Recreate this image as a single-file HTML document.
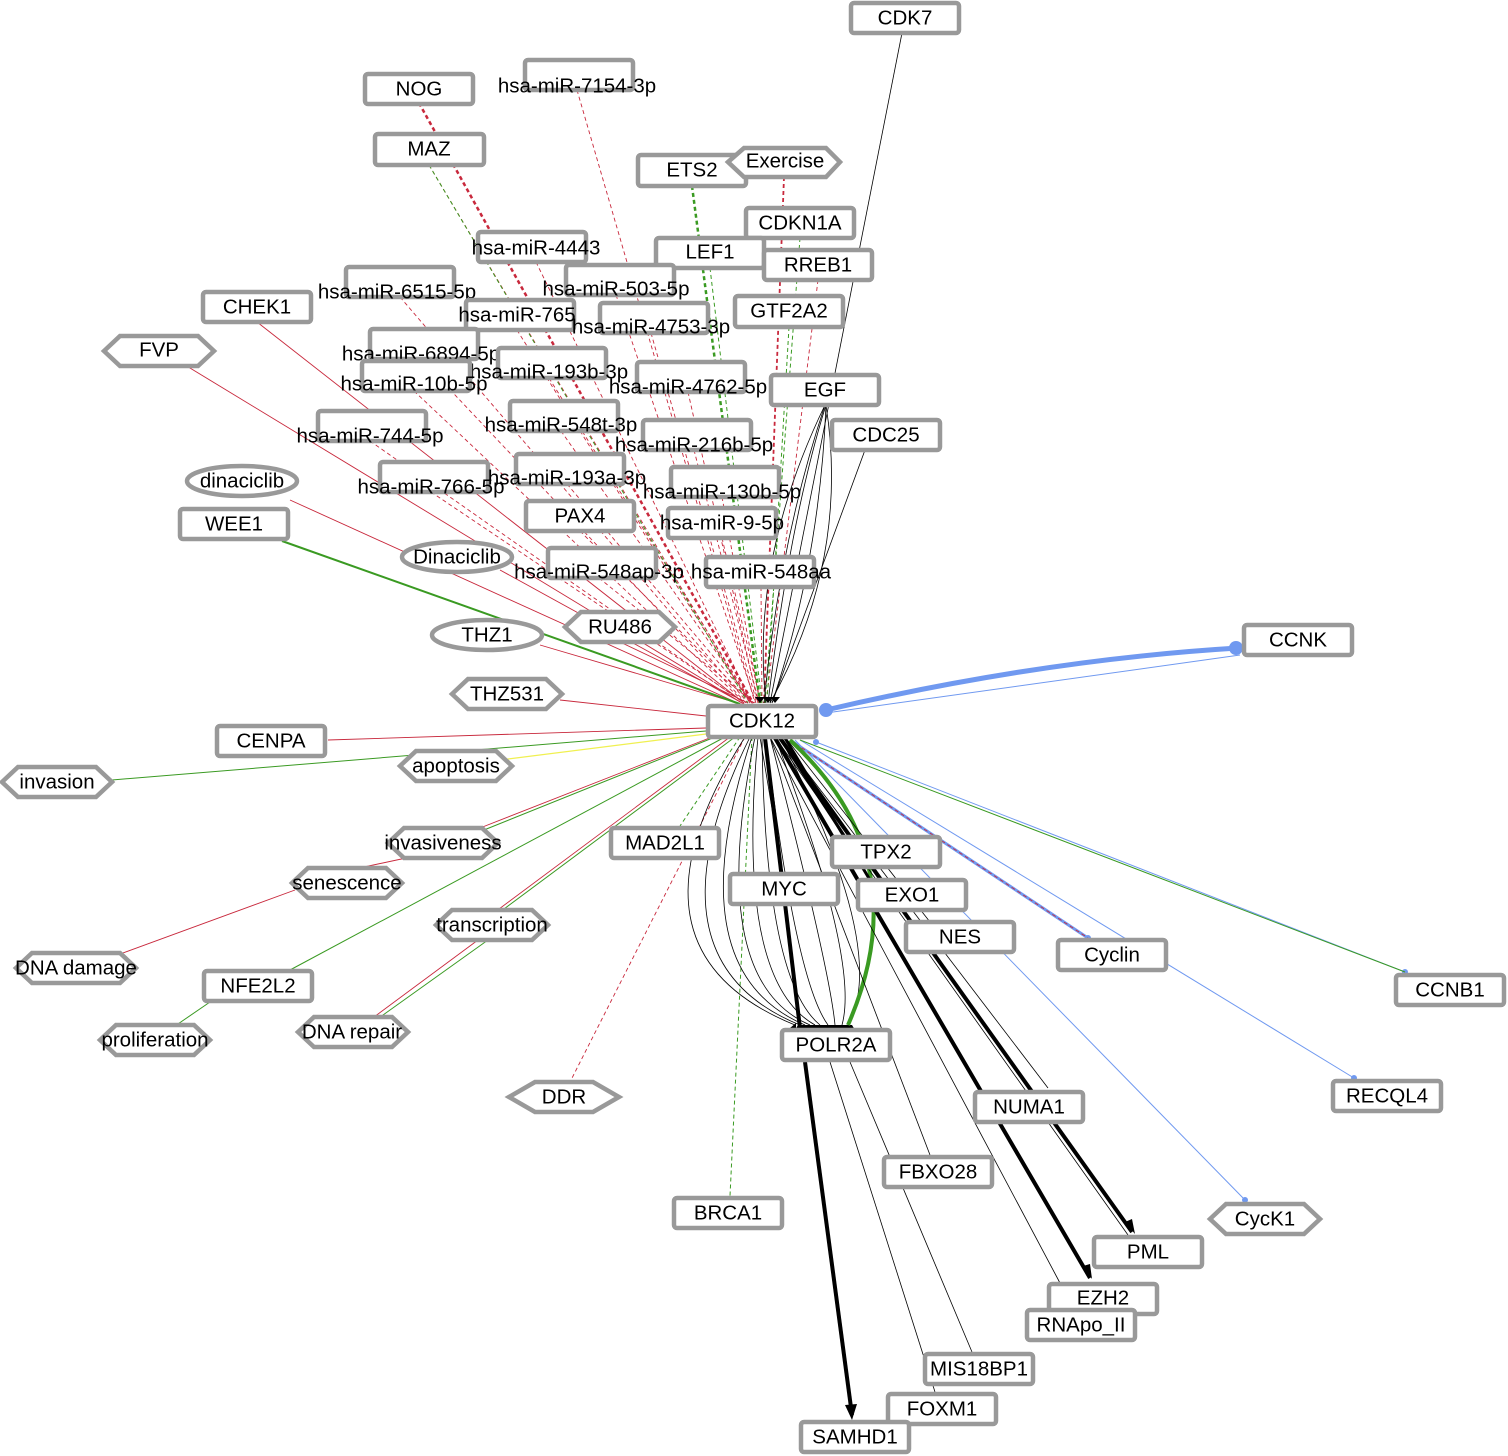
<!DOCTYPE html>
<html><head><meta charset="utf-8"><style>
html,body{margin:0;padding:0;background:#fff}
svg{display:block}
text{font-family:"Liberation Sans",sans-serif;font-size:20.5px;fill:#000;text-anchor:middle;dominant-baseline:central}
.n{fill:#fff;stroke:#999;stroke-width:4.5}
.r{stroke:#c8283c;fill:none;stroke-width:0.9}
.rd{stroke:#c8283c;fill:none;stroke-width:0.9;stroke-dasharray:4 3}
.g{stroke:#3a9a22;fill:none;stroke-width:1}
.gd{stroke:#3a9a22;fill:none;stroke-width:1;stroke-dasharray:4 3}
.k{stroke:#000;fill:none;stroke-width:0.8}
.kb{stroke:#000;fill:none;stroke-width:4}
.b{stroke:#7099f0;fill:none;stroke-width:1}
</style></head><body>
<svg width="1508" height="1456" viewBox="0 0 1508 1456">
<g>
<line class="rd" x1="577" y1="90" x2="755" y2="703"/>
<line class="rd" x1="536" y1="262" x2="752" y2="703"/>
<line class="rd" x1="400" y1="297" x2="748" y2="703"/>
<line class="rd" x1="616" y1="295" x2="756" y2="703"/>
<line class="rd" x1="517" y1="330" x2="750" y2="703"/>
<line class="rd" x1="651" y1="333" x2="757" y2="703"/>
<line class="rd" x1="421" y1="359" x2="746" y2="703"/>
<line class="rd" x1="549" y1="378" x2="752" y2="703"/>
<line class="rd" x1="414" y1="391" x2="745" y2="703"/>
<line class="rd" x1="688" y1="392" x2="758" y2="703"/>
<line class="rd" x1="370" y1="441" x2="744" y2="703"/>
<line class="rd" x1="561" y1="431" x2="752" y2="703"/>
<line class="rd" x1="694" y1="450" x2="759" y2="703"/>
<line class="rd" x1="431" y1="492" x2="745" y2="703"/>
<line class="rd" x1="567" y1="484" x2="753" y2="703"/>
<line class="rd" x1="722" y1="497" x2="760" y2="703"/>
<line class="rd" x1="722" y1="538" x2="761" y2="703"/>
<line class="rd" x1="599" y1="578" x2="754" y2="703"/>
<line class="rd" x1="761" y1="587" x2="762" y2="703"/>
<line class="rd" x1="580" y1="531" x2="752" y2="703"/>
<line class="rd" x1="419" y1="103" x2="753" y2="703" style="stroke-width:2.5"/>
<line class="rd" x1="784" y1="177" x2="764" y2="703" style="stroke-width:1.8"/>
<line class="rd" x1="818" y1="280" x2="766" y2="703"/>
<line class="rd" x1="429" y1="165" x2="750" y2="703"/>
<line class="gd" x1="429" y1="165" x2="748" y2="703"/>
<line class="gd" x1="692" y1="186" x2="760" y2="703" style="stroke-width:2.5"/>
<line class="gd" x1="710" y1="268" x2="762" y2="703"/>
<line class="gd" x1="800" y1="238" x2="765" y2="703"/>
<line class="gd" x1="789" y1="327" x2="767" y2="703"/>
<line class="r" x1="257" y1="322" x2="744" y2="703"/>
<line class="r" x1="185" y1="365" x2="742" y2="703"/>
<line class="r" x1="290" y1="500" x2="742" y2="705"/>
<line class="r" x1="500" y1="570" x2="744" y2="704"/>
<line class="r" x1="540" y1="645" x2="744" y2="705"/>
<line class="r" x1="620" y1="642" x2="748" y2="703"/>
<line class="r" x1="560" y1="700" x2="706" y2="716"/>
<line class="g" x1="282" y1="541" x2="740" y2="704" style="stroke-width:2"/>
<line class="k" x1="902" y1="33" x2="770" y2="703"/>
<line class="k" x1="865" y1="450" x2="772" y2="703"/>
<path class="k" d="M825 405 Q780 540 764 703"/>
<path class="k" d="M825 405 Q750 560 766 703"/>
<path class="k" d="M826 405 Q850 560 770 703"/>
<path class="k" d="M826 405 Q820 560 772 703"/>
<path class="k" d="M826 405 Q790 520 768 703"/>
<path d="M760 703 l-5 -6 h10z M768 703 l-5 -6 h10z M775 703 l-5 -6 h10z" fill="#000"/>
<path class="b" d="M826 710 Q1040 660 1238 648" style="stroke-width:5"/>
<line class="b" x1="826" y1="713" x2="1240" y2="655"/>
<circle cx="826" cy="710" r="7" fill="#7099f0"/>
<circle cx="1236" cy="648" r="7" fill="#7099f0"/>
<line class="b" x1="790" y1="740" x2="1088" y2="938" style="stroke-width:3"/>
<line class="b" x1="816" y1="742" x2="1405" y2="972"/>
<line class="b" x1="800" y1="740" x2="1354" y2="1078"/>
<line class="b" x1="795" y1="740" x2="1245" y2="1200"/>
<circle cx="1088" cy="938" r="3" fill="#7099f0"/>
<circle cx="1405" cy="972" r="3" fill="#7099f0"/>
<circle cx="1354" cy="1078" r="3" fill="#7099f0"/>
<circle cx="1245" cy="1200" r="3" fill="#7099f0"/>
<circle cx="816" cy="742" r="3" fill="#7099f0"/>
<line class="g" x1="800" y1="740" x2="1405" y2="972"/>
<line class="rd" x1="790" y1="740" x2="1088" y2="938"/>
<line class="r" x1="706" y1="728" x2="328" y2="740"/>
<line class="g" x1="706" y1="731" x2="112" y2="780"/>
<line x1="706" y1="734" x2="500" y2="760" stroke="#f0f050" stroke-width="1.2"/>
<line class="r" x1="712" y1="737" x2="480" y2="828"/>
<line class="g" x1="715" y1="737" x2="484" y2="830"/>
<line class="r" x1="350" y1="870" x2="420" y2="855"/>
<line class="r" x1="295" y1="890" x2="112" y2="957"/>
<line class="g" x1="725" y1="737" x2="290" y2="970"/>
<line class="g" x1="210" y1="1002" x2="175" y2="1026"/>
<line class="g" x1="735" y1="737" x2="500" y2="912"/>
<line class="r" x1="730" y1="737" x2="495" y2="912"/>
<line class="r" x1="478" y1="940" x2="370" y2="1020"/>
<line class="g" x1="488" y1="940" x2="376" y2="1020"/>
<line class="gd" x1="740" y1="737" x2="680" y2="826"/>
<line class="rd" x1="745" y1="737" x2="570" y2="1082"/>
<line class="gd" x1="752" y1="737" x2="730" y2="1196"/>
<path class="k" d="M745 737 Q610 950 795 1025"/>
<path class="k" d="M750 737 Q640 960 800 1025"/>
<path class="k" d="M752 737 Q675 970 805 1025"/>
<path class="k" d="M755 737 Q705 980 810 1025"/>
<path class="k" d="M758 737 Q735 980 815 1025"/>
<path class="k" d="M762 737 Q765 980 820 1025"/>
<path class="k" d="M766 737 Q795 980 828 1025"/>
<path class="k" d="M770 737 Q830 970 835 1025"/>
<path class="k" d="M775 737 Q860 960 842 1025"/>
<path class="k" d="M780 737 Q890 950 848 1025"/>
<path d="M790 1028 l6 -5 v10z" fill="#000"/>
<path d="M795 1030 h60 l-3 -5 h-54z" fill="#000"/>
<path class="g" d="M790 740 Q920 860 848 1025" style="stroke-width:4"/>
<line class="kb" x1="765" y1="738" x2="800" y2="1028"/>
<line class="kb" x1="805" y1="1062" x2="852" y2="1415"/>
<path d="M845 1405 l7 15 l5 -16z" fill="#000"/>
<line class="kb" x1="780" y1="738" x2="1132" y2="1232"/>
<line class="kb" x1="775" y1="738" x2="1090" y2="1278"/>
<path d="M1125 1222 l10 12 l-3 -15z M1083 1266 l9 13 l-2 -15z" fill="#000"/>
<line class="kb" x1="780" y1="738" x2="845" y2="837" style="stroke-width:3"/>
<line class="kb" x1="785" y1="738" x2="870" y2="880" style="stroke-width:3"/>
<line class="k" x1="785" y1="737" x2="930" y2="922"/>
<line class="k" x1="780" y1="737" x2="1048" y2="1088"/>
<line class="k" x1="775" y1="737" x2="1128" y2="1235"/>
<line class="k" x1="770" y1="737" x2="1060" y2="1283"/>
<line class="k" x1="770" y1="737" x2="930" y2="1155"/>
<line class="k" x1="760" y1="737" x2="783" y2="874"/>
<line class="k" x1="850" y1="1062" x2="972" y2="1352"/>
<line class="k" x1="830" y1="1062" x2="935" y2="1392"/>
</g>
<g transform="translate(0,1)">
<rect class="n" x="851" y="2" width="108" height="30" rx="3"/><text x="905" y="17">CDK7</text>
<rect class="n" x="365" y="73" width="108" height="30" rx="3"/><text x="419" y="88">NOG</text>
<rect class="n" x="525" y="59" width="108" height="30" rx="3"/><text x="577" y="85">hsa-miR-7154-3p</text>
<rect class="n" x="375" y="133" width="109" height="31" rx="3"/><text x="429" y="148">MAZ</text>
<rect class="n" x="638" y="154" width="108" height="31" rx="3"/><text x="692" y="169">ETS2</text>
<polygon class="n" points="728,161 744,147 826,147 840,161 826,176 744,176"/><text x="785" y="160">Exercise</text>
<rect class="n" x="746" y="207" width="108" height="30" rx="3"/><text x="800" y="222">CDKN1A</text>
<rect class="n" x="478" y="231" width="108" height="30" rx="3"/><text x="536" y="247">hsa-miR-4443</text>
<rect class="n" x="656" y="237" width="108" height="30" rx="3"/><text x="710" y="251">LEF1</text>
<rect class="n" x="764" y="249" width="108" height="30" rx="3"/><text x="818" y="264">RREB1</text>
<rect class="n" x="346" y="266" width="108" height="30" rx="3"/><text x="397" y="291">hsa-miR-6515-5p</text>
<rect class="n" x="566" y="264" width="108" height="30" rx="3"/><text x="616" y="288">hsa-miR-503-5p</text>
<rect class="n" x="203" y="291" width="108" height="30" rx="3"/><text x="257" y="306">CHEK1</text>
<rect class="n" x="466" y="299" width="108" height="30" rx="3"/><text x="517" y="314">hsa-miR-765</text>
<rect class="n" x="600" y="302" width="108" height="30" rx="3"/><text x="651" y="326">hsa-miR-4753-3p</text>
<rect class="n" x="735" y="295" width="108" height="31" rx="3"/><text x="789" y="310">GTF2A2</text>
<polygon class="n" points="104,350 120,335 198,335 214,350 198,365 120,365"/><text x="159" y="349">FVP</text>
<rect class="n" x="370" y="328" width="108" height="30" rx="3"/><text x="421" y="353">hsa-miR-6894-5p</text>
<rect class="n" x="498" y="347" width="108" height="30" rx="3"/><text x="549" y="371">hsa-miR-193b-3p</text>
<rect class="n" x="362" y="360" width="108" height="30" rx="3"/><text x="414" y="383">hsa-miR-10b-5p</text>
<rect class="n" x="637" y="361" width="108" height="30" rx="3"/><text x="688" y="386">hsa-miR-4762-5p</text>
<rect class="n" x="771" y="374" width="108" height="30" rx="3"/><text x="825" y="389">EGF</text>
<rect class="n" x="832" y="419" width="108" height="30" rx="3"/><text x="886" y="434">CDC25</text>
<rect class="n" x="318" y="410" width="108" height="30" rx="3"/><text x="370" y="435">hsa-miR-744-5p</text>
<rect class="n" x="510" y="400" width="108" height="30" rx="3"/><text x="561" y="424">hsa-miR-548t-3p</text>
<rect class="n" x="643" y="419" width="108" height="30" rx="3"/><text x="694" y="444">hsa-miR-216b-5p</text>
<ellipse class="n" cx="242" cy="480" rx="55" ry="15"/><text x="242" y="480">dinaciclib</text>
<rect class="n" x="380" y="461" width="108" height="30" rx="3"/><text x="431" y="486">hsa-miR-766-5p</text>
<rect class="n" x="516" y="453" width="108" height="30" rx="3"/><text x="567" y="477">hsa-miR-193a-3p</text>
<rect class="n" x="671" y="466" width="108" height="30" rx="3"/><text x="722" y="491">hsa-miR-130b-5p</text>
<rect class="n" x="180" y="508" width="108" height="30" rx="3"/><text x="234" y="523">WEE1</text>
<rect class="n" x="526" y="500" width="108" height="30" rx="3"/><text x="580" y="515">PAX4</text>
<rect class="n" x="668" y="507" width="108" height="30" rx="3"/><text x="722" y="522">hsa-miR-9-5p</text>
<ellipse class="n" cx="457" cy="556" rx="55" ry="15"/><text x="457" y="556">Dinaciclib</text>
<rect class="n" x="548" y="547" width="108" height="30" rx="3"/><text x="599" y="571">hsa-miR-548ap-3p</text>
<rect class="n" x="706" y="556" width="108" height="30" rx="3"/><text x="761" y="571">hsa-miR-548aa</text>
<polygon class="n" points="565,626 581,611 659,611 675,626 659,641 581,641"/><text x="620" y="626">RU486</text>
<rect class="n" x="1244" y="624" width="108" height="30" rx="3"/><text x="1298" y="639">CCNK</text>
<ellipse class="n" cx="487" cy="634" rx="55" ry="15"/><text x="487" y="634">THZ1</text>
<polygon class="n" points="452,693 468,678 546,678 562,693 546,708 468,708"/><text x="507" y="693">THZ531</text>
<rect class="n" x="708" y="705" width="108" height="31" rx="3"/><text x="762" y="720">CDK12</text>
<rect class="n" x="217" y="725" width="108" height="30" rx="3"/><text x="271" y="740">CENPA</text>
<polygon class="n" points="2,781 18,766 96,766 112,781 96,796 18,796"/><text x="57" y="781">invasion</text>
<polygon class="n" points="400,765 416,750 496,750 512,765 496,780 416,780"/><text x="456" y="765">apoptosis</text>
<polygon class="n" points="388,842 404,827 482,827 498,842 482,857 404,857"/><text x="443" y="842">invasiveness</text>
<rect class="n" x="611" y="827" width="108" height="30" rx="3"/><text x="665" y="842">MAD2L1</text>
<rect class="n" x="832" y="836" width="108" height="30" rx="3"/><text x="886" y="851">TPX2</text>
<polygon class="n" points="292,882 308,867 386,867 402,882 386,897 308,897"/><text x="347" y="882">senescence</text>
<rect class="n" x="730" y="873" width="108" height="30" rx="3"/><text x="784" y="888">MYC</text>
<rect class="n" x="858" y="879" width="108" height="30" rx="3"/><text x="912" y="894">EXO1</text>
<polygon class="n" points="436,924 452,909 532,909 548,924 532,939 452,939"/><text x="492" y="924">transcription</text>
<rect class="n" x="906" y="921" width="108" height="30" rx="3"/><text x="960" y="936">NES</text>
<rect class="n" x="1058" y="939" width="108" height="30" rx="3"/><text x="1112" y="954">Cyclin</text>
<polygon class="n" points="16,967 32,952 120,952 136,967 120,982 32,982"/><text x="76" y="967">DNA damage</text>
<rect class="n" x="204" y="970" width="108" height="30" rx="3"/><text x="258" y="985">NFE2L2</text>
<rect class="n" x="1396" y="974" width="108" height="30" rx="3"/><text x="1450" y="989">CCNB1</text>
<polygon class="n" points="100,1039 116,1024 194,1024 210,1039 194,1054 116,1054"/><text x="155" y="1039">proliferation</text>
<polygon class="n" points="298,1031 314,1016 392,1016 408,1031 392,1046 314,1046"/><text x="352" y="1031">DNA repair</text>
<rect class="n" x="782" y="1029" width="108" height="30" rx="3"/><text x="836" y="1044">POLR2A</text>
<polygon class="n" points="509,1096 535,1081 593,1081 619,1096 593,1111 535,1111"/><text x="564" y="1096">DDR</text>
<rect class="n" x="1333" y="1080" width="108" height="30" rx="3"/><text x="1387" y="1095">RECQL4</text>
<rect class="n" x="975" y="1091" width="108" height="30" rx="3"/><text x="1029" y="1106">NUMA1</text>
<rect class="n" x="884" y="1156" width="108" height="30" rx="3"/><text x="938" y="1171">FBXO28</text>
<rect class="n" x="674" y="1197" width="108" height="30" rx="3"/><text x="728" y="1212">BRCA1</text>
<polygon class="n" points="1210,1218 1226,1203 1304,1203 1320,1218 1304,1233 1226,1233"/><text x="1265" y="1218">CycK1</text>
<rect class="n" x="1094" y="1236" width="108" height="30" rx="3"/><text x="1148" y="1251">PML</text>
<rect class="n" x="1049" y="1283" width="108" height="30" rx="3"/><text x="1103" y="1297">EZH2</text>
<rect class="n" x="1027" y="1309" width="108" height="30" rx="3"/><text x="1081" y="1324">RNApo_II</text>
<rect class="n" x="925" y="1353" width="108" height="30" rx="3"/><text x="979" y="1368">MIS18BP1</text>
<rect class="n" x="888" y="1393" width="108" height="30" rx="3"/><text x="942" y="1408">FOXM1</text>
<rect class="n" x="801" y="1421" width="108" height="30" rx="3"/><text x="855" y="1436">SAMHD1</text>
</g>
</svg>
</body></html>
